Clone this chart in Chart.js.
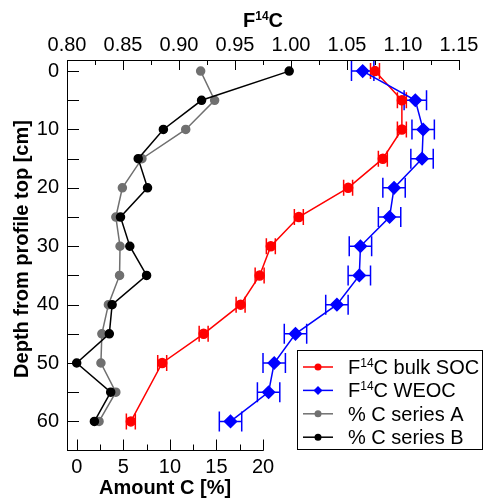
<!DOCTYPE html>
<html>
<head>
<meta charset="utf-8">
<script src="https://cdn.jsdelivr.net/npm/chart.js@4"></script>
<style>
  html, body { margin: 0; padding: 0; background: #fff; }
  #wrap { width: 486px; height: 499px; position: relative; }
</style>
</head>
<body>
<div id="wrap"><canvas id="chart"></canvas></div>
<script>
// depth of each sample [cm]
const depths = [0, 5, 10, 15, 20, 25, 30, 35, 40, 45, 50, 55, 60];
// bulk SOC has no value at 55 cm
const bulkDepths = [0, 5, 10, 15, 20, 25, 30, 35, 40, 45, 50, 60];
const bulkSoc = [1.075, 1.099, 1.099, 1.082, 1.051, 1.007, 0.982, 0.972, 0.955, 0.922, 0.885, 0.857];
const bulkErr = [0.004, 0.004, 0.004, 0.004, 0.004, 0.004, 0.004, 0.004, 0.004, 0.004, 0.004, 0.004];
const weoc = [1.064, 1.111, 1.118, 1.117, 1.092, 1.088, 1.062, 1.061, 1.041, 1.004, 0.985, 0.980, 0.946];
const weocErr = [0.010, 0.010, 0.010, 0.010, 0.010, 0.010, 0.010, 0.010, 0.010, 0.010, 0.010, 0.010, 0.010];
const seriesA = [13.3, 14.8, 11.7, 7.0, 4.9, 4.2, 4.65, 4.6, 3.4, 2.7, 2.6, 4.2, 2.4];
const seriesB = [22.8, 13.4, 9.3, 6.6, 7.6, 4.7, 5.7, 7.5, 3.8, 3.5, 0.0, 3.65, 1.9];

// axis ticks
const fTicks = [0.80, 0.85, 0.90, 0.95, 1.00, 1.05, 1.10, 1.15];
const amountTicks = [0, 5, 10, 15, 20];
const depthTicks = [0, 10, 20, 30, 40, 50, 60];

const FONT = "'Liberation Sans', Arial, sans-serif";

const pairs = (xs, ys) => xs.map((x, i) => ({ x: x, y: ys[i] }));

// draw text, turning unicode superscript digits into small raised digits
const SUP = { '⁰': '0', '¹': '1', '²': '2', '³': '3', '⁴': '4', '⁵': '5', '⁶': '6', '⁷': '7', '⁸': '8', '⁹': '9' };
function splitRuns(text) {
  const runs = [];
  for (const ch of text) {
    const sup = ch in SUP;
    const c = sup ? SUP[ch] : ch;
    if (runs.length && runs[runs.length - 1].sup === sup) runs[runs.length - 1].t += c;
    else runs.push({ t: c, sup: sup });
  }
  return runs;
}
function richWidth(ctx, text, size, weight) {
  let w = 0;
  for (const r of splitRuns(text)) {
    ctx.font = weight + ' ' + (r.sup ? Math.round(size * 0.62) : size) + 'px ' + FONT;
    w += ctx.measureText(r.t).width;
  }
  return w;
}
function drawRich(ctx, text, x, y, size, weight) {
  ctx.textBaseline = 'alphabetic';
  ctx.textAlign = 'left';
  for (const r of splitRuns(text)) {
    ctx.font = weight + ' ' + (r.sup ? Math.round(size * 0.62) : size) + 'px ' + FONT;
    ctx.fillText(r.t, x, r.sup ? y - size * 0.36 : y);
    x += ctx.measureText(r.t).width;
  }
}

const errorBars = {
  id: 'errorBars',
  beforeDatasetsDraw(chart) {
    const ctx = chart.ctx;
    chart.data.datasets.forEach((ds, i) => {
      if (!ds.errors) return;
      const xs = chart.scales[ds.xAxisID];
      const ys = chart.scales.y;
      ctx.save();
      ctx.strokeStyle = ds.borderColor;
      ctx.lineWidth = 1.5;
      ds.data.forEach((p, j) => {
        const x0 = xs.getPixelForValue(p.x - ds.errors[j]);
        const x1 = xs.getPixelForValue(p.x + ds.errors[j]);
        const py = ys.getPixelForValue(p.y);
        const h = ds.capHalf;
        ctx.beginPath();
        ctx.moveTo(x0, py); ctx.lineTo(x1, py);
        ctx.moveTo(x0, py - h); ctx.lineTo(x0, py + h);
        ctx.moveTo(x1, py - h); ctx.lineTo(x1, py + h);
        ctx.stroke();
      });
      ctx.restore();
    });
  }
};

const axesDecor = {
  id: 'axesDecor',
  afterDraw(chart) {
    const ctx = chart.ctx;
    const a = chart.chartArea;
    const sy = chart.scales.y, sf = chart.scales.xF, sc = chart.scales.xC;
    ctx.save();
    ctx.strokeStyle = '#000';
    ctx.lineWidth = 1;
    ctx.beginPath();
    // left ticks, every 5 cm, pointing inward
    for (let v = 0; v <= 60; v += 5) {
      const p = Math.round(sy.getPixelForValue(v)) + 0.5;
      ctx.moveTo(a.left, p); ctx.lineTo(a.left + 12, p);
    }
    // top ticks
    for (let k = 0; k < fTicks.length * 2 - 1; k++) {
      const v = fTicks[0] + k * 0.025;
      const p = Math.round(sf.getPixelForValue(v)) + 0.5;
      ctx.moveTo(p, a.top); ctx.lineTo(p, a.top + (k % 2 ? 5 : 10));
    }
    // partial bottom axis
    const bEnd = sc.getPixelForValue(amountTicks[amountTicks.length - 1]);
    const by = Math.round(a.bottom) + 0.5;
    ctx.moveTo(a.left, by); ctx.lineTo(bEnd + 0.5, by);
    for (let k = 0; k < amountTicks.length * 2 - 1; k++) {
      const v = amountTicks[0] + k * 2.5;
      const p = Math.round(sc.getPixelForValue(v)) + 0.5;
      ctx.moveTo(p, by); ctx.lineTo(p, by - (k % 2 ? 6 : 11));
    }
    ctx.stroke();

    // axis titles
    ctx.fillStyle = '#000';
    const t1 = 'F¹⁴C';
    const w1 = richWidth(ctx, t1, 20, 'bold');
    drawRich(ctx, t1, (a.left + a.right) / 2 - w1 / 2, 27, 20, 'bold');

    ctx.font = 'bold 20px ' + FONT;
    ctx.textAlign = 'center';
    ctx.textBaseline = 'middle';
    ctx.fillText('Amount C [%]', (a.left + bEnd) / 2, 488);
    ctx.translate(22, (a.top + a.bottom) / 2 - 6);
    ctx.rotate(-Math.PI / 2);
    ctx.fillText('Depth from profile top [cm]', 0, 0);
    ctx.restore();

    // legend box
    const bx = a.right - 162, bw = 185, byTop = a.bottom - 100, bh = 99;
    ctx.save();
    ctx.fillStyle = '#fff';
    ctx.fillRect(bx, byTop, bw, bh);
    ctx.strokeStyle = '#000';
    ctx.lineWidth = 1;
    ctx.strokeRect(bx + 0.5, byTop + 0.5, bw, bh);
    chart.data.datasets.forEach((ds, i) => {
      const cy = byTop + 17 + i * 23.4;
      ctx.strokeStyle = ds.borderColor;
      ctx.fillStyle = ds.backgroundColor;
      ctx.lineWidth = 1.5;
      ctx.beginPath();
      ctx.moveTo(bx + 6, cy); ctx.lineTo(bx + 36, cy);
      ctx.stroke();
      const r = ds.pointStyle === 'rectRot' ? 4.5 : 3.5;
      ctx.beginPath();
      if (ds.pointStyle === 'rectRot') {
        ctx.moveTo(bx + 21 - r, cy); ctx.lineTo(bx + 21, cy - r);
        ctx.lineTo(bx + 21 + r, cy); ctx.lineTo(bx + 21, cy + r);
        ctx.closePath();
      } else {
        ctx.arc(bx + 21, cy, r, 0, Math.PI * 2);
      }
      ctx.fill();
      ctx.fillStyle = '#000';
      drawRich(ctx, ds.label, bx + 51, cy + 7, 20, 'normal');
    });
    ctx.restore();
  }
};

new Chart(document.getElementById('chart'), {
  type: 'scatter',
  data: {
    datasets: [
      {
        label: 'F¹⁴C bulk SOC',
        data: pairs(bulkSoc, bulkDepths),
        errors: bulkErr,
        capHalf: 8,
        xAxisID: 'xF',
        borderColor: '#ff0000',
        backgroundColor: '#ff0000',
        pointStyle: 'circle',
        pointRadius: 4.5,
        borderWidth: 1.5,
        showLine: true,
        order: 2
      },
      {
        label: 'F¹⁴C WEOC',
        data: pairs(weoc, depths),
        errors: weocErr,
        capHalf: 10,
        xAxisID: 'xF',
        borderColor: '#0000ff',
        backgroundColor: '#0000ff',
        pointStyle: 'rectRot',
        pointRadius: 6,
        borderWidth: 1.5,
        showLine: true,
        order: 1
      },
      {
        label: '% C series A',
        data: pairs(seriesA, depths),
        xAxisID: 'xC',
        borderColor: '#707070',
        backgroundColor: '#707070',
        pointStyle: 'circle',
        pointRadius: 4,
        borderWidth: 1.5,
        showLine: true,
        order: 4
      },
      {
        label: '% C series B',
        data: pairs(seriesB, depths),
        xAxisID: 'xC',
        borderColor: '#000000',
        backgroundColor: '#000000',
        pointStyle: 'circle',
        pointRadius: 4,
        borderWidth: 1.5,
        showLine: true,
        order: 3
      }
    ]
  },
  options: {
    responsive: true,
    maintainAspectRatio: false,
    animation: false,
    layout: { padding: { left: 0, top: 0, bottom: 0, right: 27 } },
    plugins: {
      legend: { display: false },
      tooltip: { enabled: false }
    },
    elements: { point: { borderWidth: 0, hoverRadius: 4 } },
    scales: {
      y: {
        type: 'linear',
        position: 'left',
        reverse: true,
        min: -1.9,
        max: 64.9,
        afterBuildTicks: (s) => { s.ticks = depthTicks.map(v => ({ value: v })); },
        afterFit: (s) => { s.width = 67; },
        ticks: { color: '#000', padding: 8, font: { size: 20, family: FONT } },
        grid: { display: false, drawTicks: false },
        border: { display: true, color: '#000', width: 1 }
      },
      xF: {
        type: 'linear',
        position: 'top',
        min: 0.80,
        max: 1.15,
        afterBuildTicks: (s) => { s.ticks = fTicks.map(v => ({ value: v })); },
        afterFit: (s) => { s.height = 60; },
        ticks: {
          color: '#000', padding: 3, maxRotation: 0, autoSkip: false,
          font: { size: 20, family: FONT },
          callback: (v) => Number(v).toFixed(2)
        },
        grid: { display: false, drawTicks: false },
        border: { display: true, color: '#000', width: 1 }
      },
      xC: {
        type: 'linear',
        position: 'bottom',
        min: -1.04,
        max: 41.02,
        afterBuildTicks: (s) => { s.ticks = amountTicks.map(v => ({ value: v })); },
        afterFit: (s) => { s.height = 49; },
        ticks: {
          color: '#000', padding: 5, maxRotation: 0, autoSkip: false,
          font: { size: 20, family: FONT }
        },
        grid: { display: false, drawTicks: false },
        border: { display: false }
      }
    }
  },
  plugins: [errorBars, axesDecor]
});
</script>
</body>
</html>
